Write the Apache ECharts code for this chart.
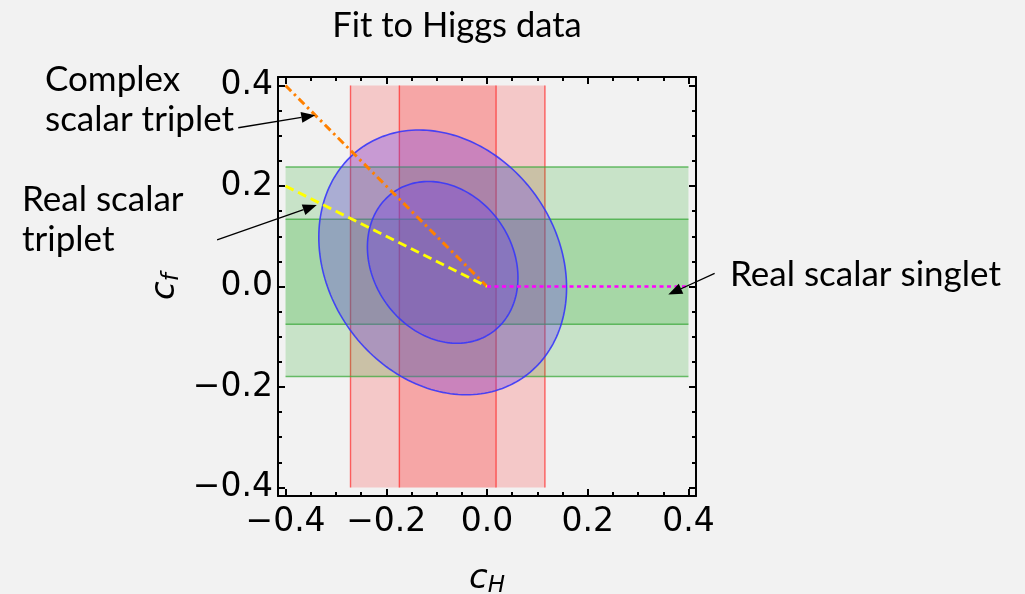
<!DOCTYPE html>
<html>
<head>
<meta charset="utf-8">
<script src="https://cdn.jsdelivr.net/npm/echarts@6/dist/echarts.min.js"></script>
<style>
  html, body { margin: 0; padding: 0; background: #f2f2f2; }
  #chart { width: 1025px; height: 594px; }
</style>
</head>
<body>
<div id="chart"></div>
<script>
// Tick positions (both axes share them)
const majorTicks = [-0.4, -0.2, 0, 0.2, 0.4];
const minorTicks = [-0.4, -0.35, -0.3, -0.25, -0.2, -0.15, -0.1, -0.05, 0,
                    0.05, 0.1, 0.15, 0.2, 0.25, 0.3, 0.35, 0.4];

// c_H constraint bands (outer, inner) and the c_f range they cover
const cHBands = [[-0.271, 0.115], [-0.174, 0.018]];
const cHBandSpan = [-0.4, 0.4];
// c_f constraint bands (outer, inner) and the c_H range they cover
const cfBands = [[-0.179, 0.238], [-0.075, 0.134]];
const cfBandSpan = [-0.4, 0.4];

// Combined-fit ellipses: [centre cH, centre cf, half-width, half-height, correlation]
const fitEllipses = [
  [-0.088, 0.048, 0.246, 0.2635, -0.19],
  [-0.088, 0.048, 0.1495, 0.161, -0.19]
];

// Model directions in the (c_H, c_f) plane
const complexTriplet = [[-0.4, 0.4], [0, 0]];
const realTriplet = [[-0.4, 0.2], [0, 0]];
const realSinglet = [[0, 0], [0.4, 0]];

// Labels with arrows: tail and tip in plot units
const arrowNotes = [
  { tail: [-0.494, 0.316], tip: [-0.341, 0.341] },
  { tail: [-0.536, 0.093], tip: [-0.338, 0.162] },
  { tail: [0.452, 0.026], tip: [0.36, -0.016] }
];

const X_RANGE = [-0.415, 0.415];
const Y_RANGE = [-0.417, 0.417];

const chart = echarts.init(document.getElementById('chart'), null, { renderer: 'canvas' });

const fmt = v => v.toFixed(1).replace('-', '\u2212');
const tickFont = { fontFamily: 'DejaVu Sans', fontSize: 33, color: '#000' };

function makeAxis(dim, pos, major, withLabels, range) {
  return {
    type: 'value', min: range[0], max: range[1], position: pos,
    axisLine: { show: major, onZero: false, lineStyle: { color: '#000', width: 2 } },
    axisTick: {
      show: true, inside: true, length: major ? 7 : 4,
      customValues: major ? majorTicks : minorTicks,
      lineStyle: { color: '#000', width: 2 }
    },
    axisLabel: withLabels
      ? Object.assign({ show: true, customValues: majorTicks, formatter: fmt, margin: dim === 'x' ? 10 : 5 }, tickFont)
      : { show: false },
    splitLine: { show: false },
    z: 10
  };
}

const nameRich = {
  c: { fontFamily: 'DejaVu Sans', fontStyle: 'italic', fontSize: 34, color: '#000' },
  s: { fontFamily: 'DejaVu Sans', fontStyle: 'italic', fontSize: 23, color: '#000', padding: [15, 0, 0, 0] }
};

const xAxes = [
  Object.assign(makeAxis('x', 'bottom', true, true, X_RANGE), {
    name: '{c|c}{s|H}', nameLocation: 'middle', nameGap: 64,
    nameTextStyle: { rich: nameRich }
  }),
  makeAxis('x', 'bottom', false, false, X_RANGE),
  makeAxis('x', 'top', true, false, X_RANGE),
  makeAxis('x', 'top', false, false, X_RANGE)
];
const yAxes = [
  Object.assign(makeAxis('y', 'left', true, true, Y_RANGE), {
    name: '{c|c}{s|f}', nameLocation: 'middle', nameGap: 94, nameRotate: 90,
    nameTextStyle: { rich: nameRich }
  }),
  makeAxis('y', 'left', false, false, Y_RANGE),
  makeAxis('y', 'right', true, false, Y_RANGE),
  makeAxis('y', 'right', false, false, Y_RANGE)
];

function bandRenderer(vertical, fill, edge) {
  return function (params, api) {
    const a = api.value(0), b = api.value(1), s0 = api.value(2), s1 = api.value(3);
    let p0, p1;
    if (vertical) { p0 = api.coord([a, s1]); p1 = api.coord([b, s0]); }
    else { p0 = api.coord([s0, b]); p1 = api.coord([s1, a]); }
    const x = p0[0], y = p0[1], w = p1[0] - p0[0], h = p1[1] - p0[1];
    const es = { stroke: edge, lineWidth: 1.4 };
    const children = [{ type: 'rect', shape: { x, y, width: w, height: h }, style: { fill } }];
    if (vertical) {
      children.push({ type: 'line', shape: { x1: x, y1: y, x2: x, y2: y + h }, style: es });
      children.push({ type: 'line', shape: { x1: x + w, y1: y, x2: x + w, y2: y + h }, style: es });
    } else {
      children.push({ type: 'line', shape: { x1: x, y1: y, x2: x + w, y2: y }, style: es });
      children.push({ type: 'line', shape: { x1: x, y1: y + h, x2: x + w, y2: y + h }, style: es });
    }
    return { type: 'group', children };
  };
}

function ellipseRenderer(params, api) {
  const cx = api.value(0), cy = api.value(1), sx = api.value(2), sy = api.value(3), r = api.value(4);
  const k = Math.sqrt(1 - r * r);
  const pts = [];
  const N = 200;
  for (let i = 0; i < N; i++) {
    const t = 2 * Math.PI * i / N;
    const u = Math.cos(t), v = Math.sin(t);
    pts.push(api.coord([cx + sx * u, cy + sy * (r * u + k * v)]));
  }
  return {
    type: 'polygon', shape: { points: pts },
    style: { fill: 'rgba(110,60,235,0.32)', stroke: 'rgba(55,55,250,0.9)', lineWidth: 1.6 }
  };
}

const option = {
  backgroundColor: '#f2f2f2',
  animation: false,
  grid: { left: 278, top: 77, width: 418, height: 419, containLabel: false, outerBoundsMode: 'none' },
  xAxis: xAxes,
  yAxis: yAxes,
  series: [
    {
      type: 'custom', name: 'cH bands', renderItem: bandRenderer(true, 'rgba(255,20,20,0.19)', 'rgba(255,50,50,0.75)'),
      data: cHBands.map(b => [b[0], b[1], cHBandSpan[0], cHBandSpan[1]]), z: 1, silent: true
    },
    {
      type: 'custom', name: 'cf bands', renderItem: bandRenderer(false, 'rgba(20,165,20,0.19)', 'rgba(60,170,60,0.75)'),
      data: cfBands.map(b => [b[0], b[1], cfBandSpan[0], cfBandSpan[1]]), z: 2, silent: true
    },
    {
      type: 'custom', name: 'fit', renderItem: ellipseRenderer, data: fitEllipses, z: 3, silent: true
    },
    {
      type: 'line', name: 'Complex scalar triplet', data: complexTriplet, showSymbol: false, z: 5,
      lineStyle: { color: '#ff8000', width: 3, type: [8, 4, 2.5, 4] }
    },
    {
      type: 'line', name: 'Real scalar triplet', data: realTriplet, showSymbol: false, z: 5,
      lineStyle: { color: '#ffff00', width: 3, type: [9, 5] }
    },
    {
      type: 'line', name: 'Real scalar singlet', data: realSinglet, showSymbol: false, z: 5,
      lineStyle: { color: '#ff00ff', width: 2.5, type: [4, 3.5] }
    }
  ]
};
chart.setOption(option);

const noteText = (text, x, y) => ({
  type: 'text', x, y, z: 20,
  style: { text, fontFamily: 'Lato', fontSize: 35, fill: '#000', align: 'left', verticalAlign: 'middle' }
});

const graphics = [
  {
    type: 'text', x: 457, y: 26, z: 20,
    style: { text: 'Fit to Higgs data', fontFamily: 'Lato', fontSize: 34.5, fill: '#000', align: 'center', verticalAlign: 'middle' }
  },
  noteText('Complex', 45, 80),
  noteText('scalar triplet', 45, 120),
  noteText('Real scalar', 22, 200),
  noteText('triplet', 22, 240),
  noteText('Real scalar singlet', 730, 275)
];

arrowNotes.forEach(n => {
  const a = chart.convertToPixel({ gridIndex: 0 }, n.tail);
  const b = chart.convertToPixel({ gridIndex: 0 }, n.tip);
  const dx = b[0] - a[0], dy = b[1] - a[1];
  const len = Math.hypot(dx, dy);
  const ux = dx / len, uy = dy / len;
  const headLen = 14, headHalf = 5.5;
  const bx = b[0] - ux * headLen, by = b[1] - uy * headLen;
  graphics.push({
    type: 'line', z: 21,
    shape: { x1: a[0], y1: a[1], x2: bx, y2: by },
    style: { stroke: '#000', lineWidth: 1.3 }
  });
  graphics.push({
    type: 'polygon', z: 21,
    shape: { points: [[b[0], b[1]], [bx - uy * headHalf, by + ux * headHalf], [bx + uy * headHalf, by - ux * headHalf]] },
    style: { fill: '#000' }
  });
});

chart.setOption({ graphic: graphics });
</script>
</body>
</html>
